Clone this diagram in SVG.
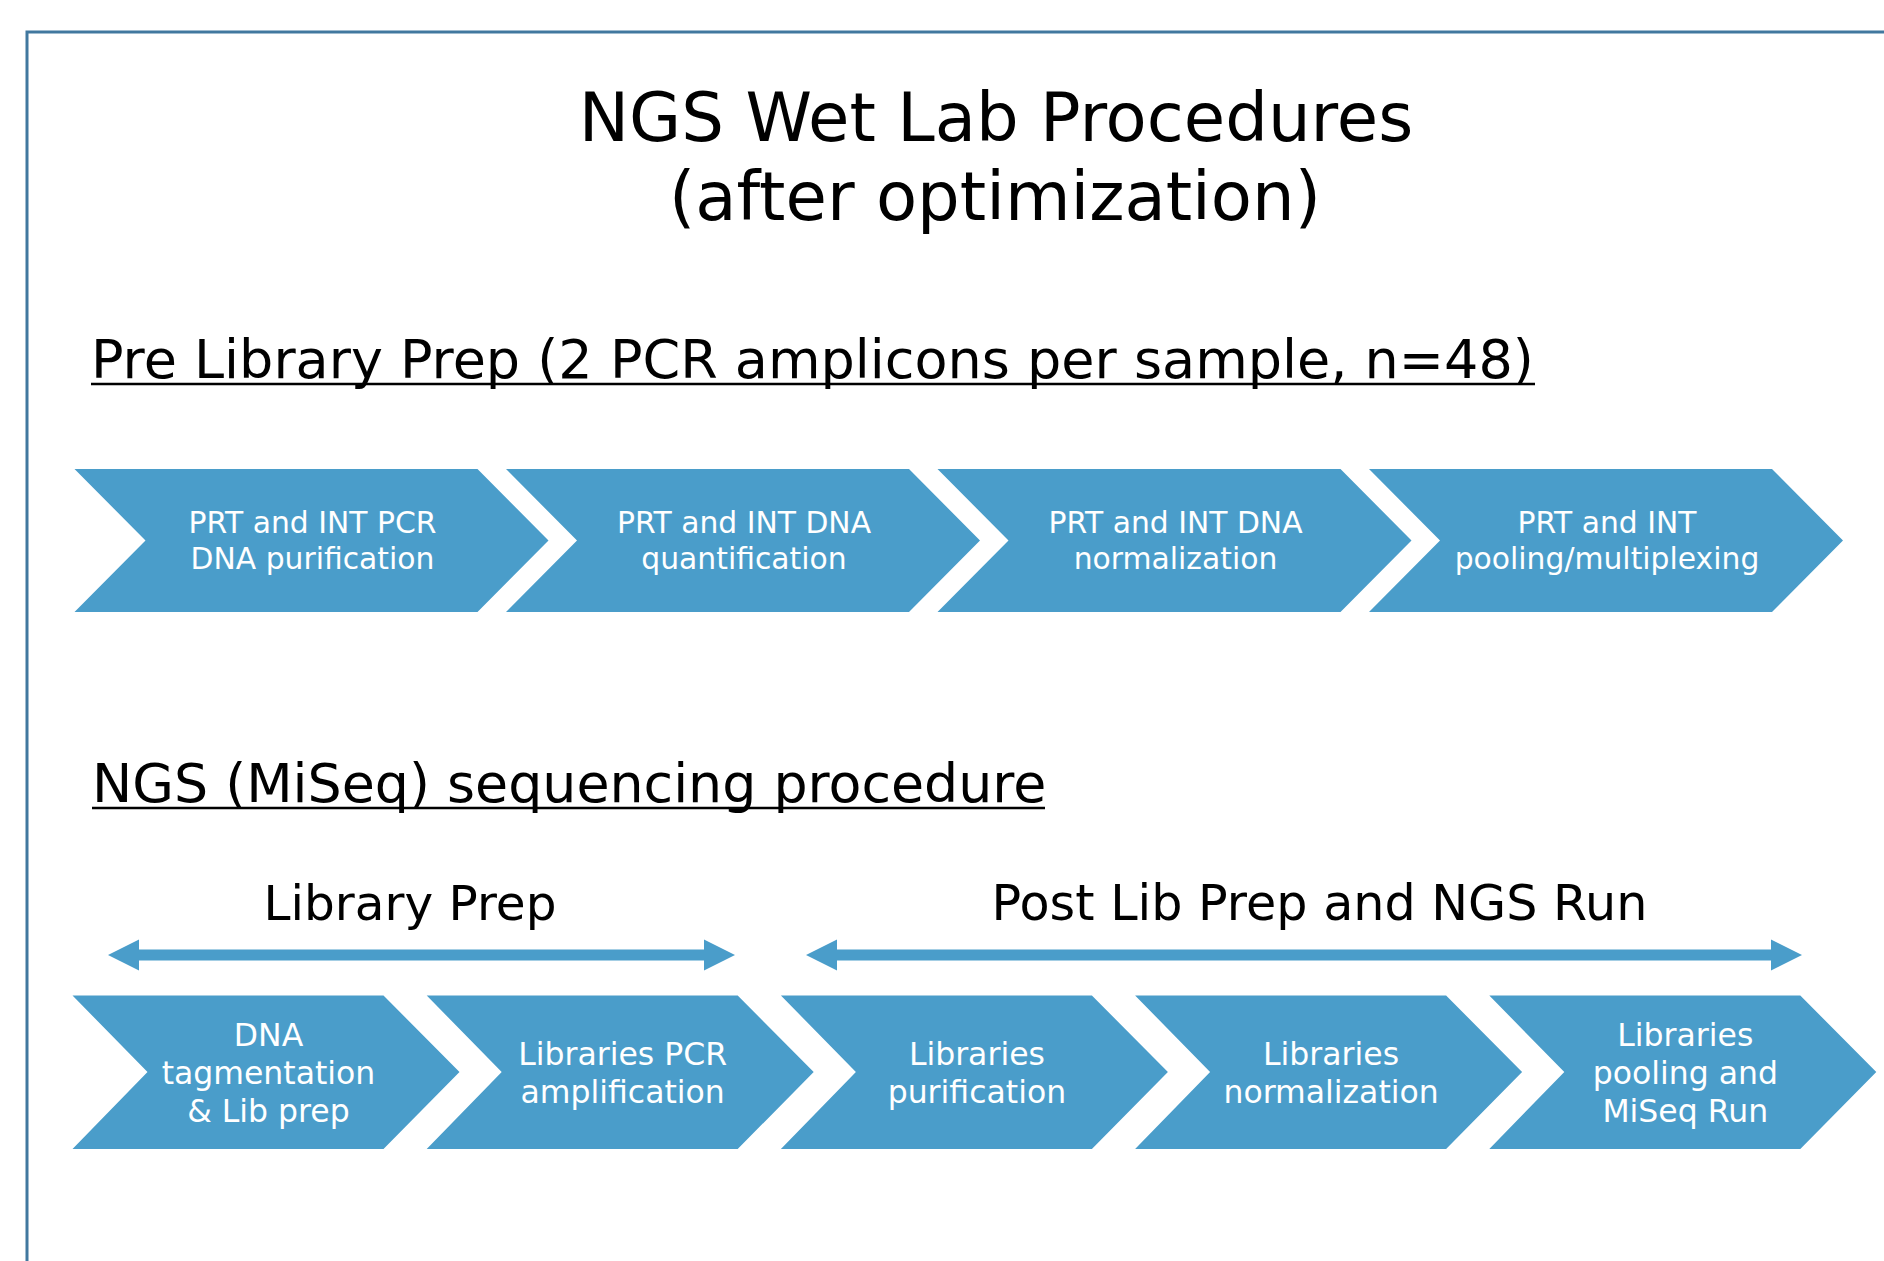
<svg xmlns="http://www.w3.org/2000/svg" width="1884" height="1261" viewBox="0 0 1884 1261">
<defs>
<style>
text { font-family: "DejaVu Sans", Verdana, sans-serif; }
.title { font-size: 67.3px; fill: #000; text-anchor: middle; }
.sub { font-size: 54px; fill: #000; }
.uline { stroke: #000; stroke-width: 2.6; }
.head { font-size: 48.5px; fill: #000; text-anchor: middle; }
.chev { fill: #4a9dca; }
.t1 { font-size: 29.8px; fill: #fff; text-anchor: middle; }
.t2 { font-size: 31.5px; fill: #fff; text-anchor: middle; }
.arrow { fill: #4a9dca; }
</style>
</defs>
<rect width="1884" height="1261" fill="#fff"/>
<path d="M27,1261 V32 H1884" fill="none" stroke="#41789f" stroke-width="3"/>

<g id="title">
<text class="title" x="996" y="141">NGS Wet Lab Procedures</text>
<text class="title" x="995" y="220">(after optimization)</text>
</g>

<g id="heading-pre">
<text class="sub" x="91" y="378">Pre Library Prep (2 PCR amplicons per sample, n=48)</text>
<line class="uline" x1="91" y1="384" x2="1535" y2="384"/>
</g>

<g id="pre1">
<path class="chev" d="M74.5,469 H477.5 L548.5,540.5 L477.5,612 H74.5 L145.5,540.5 Z"/>
<text class="t1" x="312.5" y="532.5">PRT and INT PCR</text>
<text class="t1" x="312.5" y="568.5">DNA purification</text>
</g>
<g id="pre2">
<path class="chev" d="M506,469 H909 L980,540.5 L909,612 H506 L577,540.5 Z"/>
<text class="t1" x="744" y="532.5">PRT and INT DNA</text>
<text class="t1" x="744" y="568.5">quantification</text>
</g>
<g id="pre3">
<path class="chev" d="M937.5,469 H1340.5 L1411.5,540.5 L1340.5,612 H937.5 L1008.5,540.5 Z"/>
<text class="t1" x="1175.5" y="532.5">PRT and INT DNA</text>
<text class="t1" x="1175.5" y="568.5">normalization</text>
</g>
<g id="pre4">
<path class="chev" d="M1369,469 H1772 L1843,540.5 L1772,612 H1369 L1440,540.5 Z"/>
<text class="t1" x="1607" y="532.5">PRT and INT</text>
<text class="t1" x="1607" y="568.5">pooling/multiplexing</text>
</g>

<g id="heading-ngs">
<text class="sub" x="92" y="802" style="font-size:53.8px">NGS (MiSeq) sequencing procedure</text>
<line class="uline" x1="92" y1="808" x2="1045" y2="808"/>
</g>

<g id="label-libprep">
<text class="head" x="410" y="920">Library Prep</text>
</g>
<g id="label-post">
<text class="head" x="1319.5" y="920" style="font-size:49.2px">Post Lib Prep and NGS Run</text>
</g>

<g id="connectors">
<polygon class="arrow" points="108,955 139,939.5 139,949.5 704,949.5 704,939.5 735,955 704,970.5 704,960.5 139,960.5 139,970.5"/>
<polygon class="arrow" points="806,955 837,939.5 837,949.5 1771,949.5 1771,939.5 1802,955 1771,970.5 1771,960.5 837,960.5 837,970.5"/>
</g>

<g id="ngs1">
<path class="chev" d="M72.5,995.5 H383.5 L459.5,1072 L383.5,1149 H72.5 L147.5,1072 Z"/>
<text class="t2" x="268.5" y="1046">DNA</text>
<text class="t2" x="268.5" y="1084">tagmentation</text>
<text class="t2" x="268.5" y="1122">&amp; Lib prep</text>
</g>
<g id="ngs2">
<path class="chev" d="M426.7,995.5 H737.7 L813.7,1072 L737.7,1149 H426.7 L501.7,1072 Z"/>
<text class="t2" x="622.7" y="1065">Libraries PCR</text>
<text class="t2" x="622.7" y="1103">amplification</text>
</g>
<g id="ngs3">
<path class="chev" d="M780.9,995.5 H1091.9 L1167.9,1072 L1091.9,1149 H780.9 L855.9,1072 Z"/>
<text class="t2" x="976.9" y="1065">Libraries</text>
<text class="t2" x="976.9" y="1103">purification</text>
</g>
<g id="ngs4">
<path class="chev" d="M1135.1,995.5 H1446.1 L1522.1,1072 L1446.1,1149 H1135.1 L1210.1,1072 Z"/>
<text class="t2" x="1331.1" y="1065">Libraries</text>
<text class="t2" x="1331.1" y="1103">normalization</text>
</g>
<g id="ngs5">
<path class="chev" d="M1489.3,995.5 H1800.3 L1876.3,1072 L1800.3,1149 H1489.3 L1564.3,1072 Z"/>
<text class="t2" x="1685.3" y="1046">Libraries</text>
<text class="t2" x="1685.3" y="1084">pooling and</text>
<text class="t2" x="1685.3" y="1122">MiSeq Run</text>
</g>
</svg>
